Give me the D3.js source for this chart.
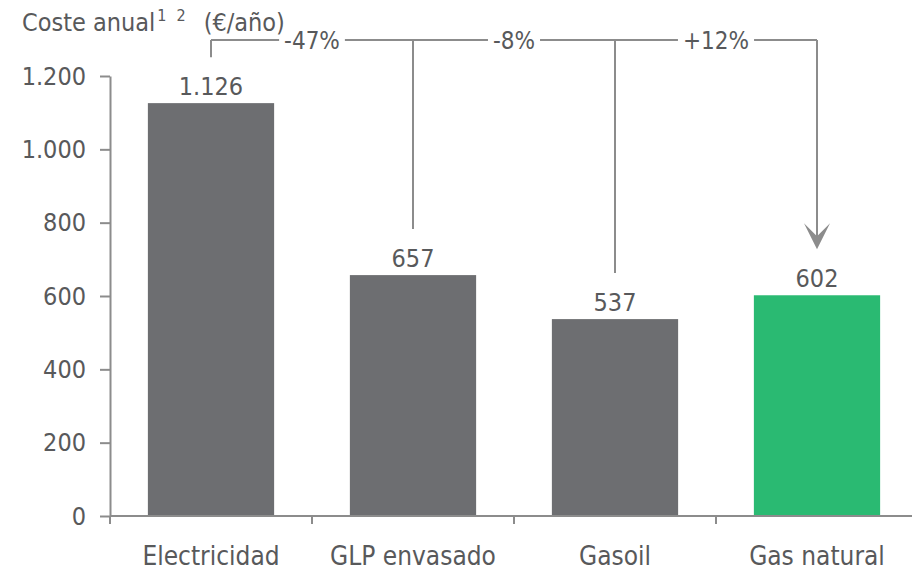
<!DOCTYPE html>
<html>
<head>
<meta charset="utf-8">
<script src="https://cdn.jsdelivr.net/npm/d3@7"></script>
<style>
  html, body { margin: 0; padding: 0; background: #fff; }
  svg { display: block; }
  text { font-family: "DejaVu Sans", sans-serif; font-stretch: condensed; fill: #58595b; }
</style>
</head>
<body>
<svg id="chart" width="912" height="570"></svg>
<script>
// Annual heating cost by energy source (€/year)
const categories = ["Electricidad", "GLP envasado", "Gasoil", "Gas natural"];
const costs = [1126, 657, 537, 602];
const yTicks = [0, 200, 400, 600, 800, 1000, 1200];
const changeLabels = ["-47%", "-8%", "+12%"];
const highlight = "Gas natural";

const W = 912, H = 570;
const NUM_FONT = 25;
const CAT_FONT = 26;
const svg = d3.select("#chart");

const locale = d3.formatLocale({ decimal: ",", thousands: ".", grouping: [3], currency: ["", "€"] });
const fmt = locale.format(",d");

const y = d3.scaleLinear().domain([0, 1200]).range([516, 76]);
const x = d3.scaleBand().domain(categories).range([110, 918])
  .paddingInner(0.375).paddingOuter(0.1875);
const gap = x.step() - x.bandwidth();
const center = d => x(d) + x.bandwidth() / 2;

const axisColor = "#8c8c8c";

// Bars
svg.append("g").selectAll("rect")
  .data(categories)
  .join("rect")
  .attr("x", d => x(d))
  .attr("width", x.bandwidth())
  .attr("y", (d, i) => y(costs[i]))
  .attr("height", (d, i) => y(0) - y(costs[i]))
  .attr("fill", d => d === highlight ? "#2aba72" : "#6d6e71");

// Value labels
svg.append("g").selectAll("text")
  .data(categories)
  .join("text")
  .attr("x", d => center(d))
  .attr("y", (d, i) => y(costs[i]) - 8)
  .attr("text-anchor", "middle")
  .attr("font-size", NUM_FONT)
  .text((d, i) => fmt(costs[i]));

// Y axis
const yAxis = svg.append("g")
  .attr("transform", "translate(110,0)")
  .call(d3.axisLeft(y).tickValues(yTicks).tickFormat(fmt).tickSize(10).tickSizeOuter(0).tickPadding(14));
yAxis.select(".domain").attr("stroke", axisColor).attr("stroke-width", 2);
yAxis.selectAll(".tick line").attr("stroke", axisColor).attr("stroke-width", 2);
yAxis.selectAll(".tick text").attr("font-size", NUM_FONT).attr("font-family", null).attr("fill", null);

// X axis: baseline with ticks at category boundaries
const xg = svg.append("g");
xg.append("line")
  .attr("x1", x.range()[0]).attr("x2", W)
  .attr("y1", y(0)).attr("y2", y(0))
  .attr("stroke", axisColor).attr("stroke-width", 2);
xg.selectAll("line.tick")
  .data(categories)
  .join("line")
  .attr("class", "tick")
  .attr("x1", d => x(d) - gap / 2).attr("x2", d => x(d) - gap / 2)
  .attr("y1", y(0)).attr("y2", y(0) + 8)
  .attr("stroke", axisColor).attr("stroke-width", 2);
xg.selectAll("text")
  .data(categories)
  .join("text")
  .attr("x", d => center(d))
  .attr("y", 565)
  .attr("text-anchor", "middle")
  .attr("font-size", CAT_FONT)
  .text(d => d);

// Title
const title = svg.append("text").attr("x", 22).attr("y", 31).attr("font-size", 25);
title.append("tspan").text("Coste anual");
title.append("tspan").attr("font-size", 16).attr("dy", -10).attr("dx", 2).text("1");
title.append("tspan").attr("font-size", 16).attr("dx", 10).text("2");
title.append("tspan").attr("dy", 10).attr("dx", 18).text("(€/año)");

// Comparison bracket
const lineColor = "#8c8c8c";
const topY = 40;
const drop = 46;
const ann = svg.append("g").attr("stroke", lineColor).attr("stroke-width", 2).attr("fill", "none");

// verticals from each bar to the bracket line
categories.forEach((d, i) => {
  const last = i === categories.length - 1;
  const endY = y(costs[i]) - drop - (last ? 12 : 0);
  ann.append("line")
    .attr("x1", center(d)).attr("x2", center(d))
    .attr("y1", topY).attr("y2", endY);
});

// arrowhead into the highlighted bar
const lastCat = categories[categories.length - 1];
const tipY = y(costs[costs.length - 1]) - drop;
const cx = center(lastCat);
svg.append("path")
  .attr("d", `M${cx},${tipY} L${cx - 13},${tipY - 26} L${cx},${tipY - 13} L${cx + 13},${tipY - 26} Z`)
  .attr("fill", lineColor);

// horizontal segments with labels in the gaps
changeLabels.forEach((lab, i) => {
  const x0 = center(categories[i]);
  const x1 = center(categories[i + 1]);
  const mid = (x0 + x1) / 2;
  const t = svg.append("text")
    .attr("x", mid).attr("y", topY + 9)
    .attr("text-anchor", "middle")
    .attr("font-size", 24)
    .text(lab);
  const w = t.node().getComputedTextLength();
  ann.append("line").attr("x1", x0).attr("x2", mid - w / 2 - 5).attr("y1", topY).attr("y2", topY);
  ann.append("line").attr("x1", mid + w / 2 + 5).attr("x2", x1).attr("y1", topY).attr("y2", topY);
});
</script>
</body>
</html>
